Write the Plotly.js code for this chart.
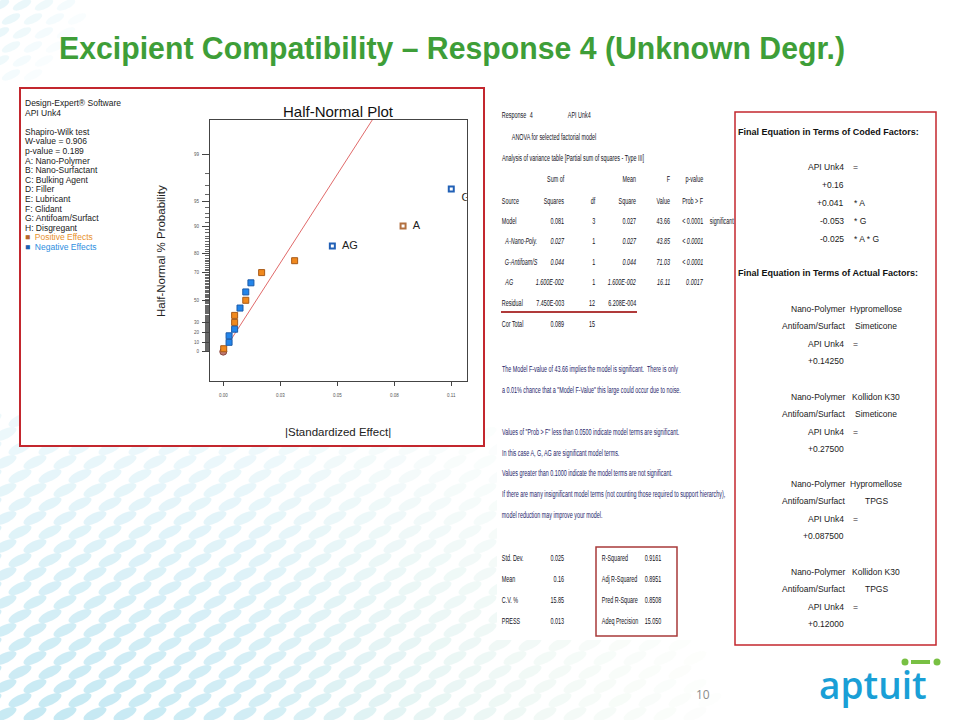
<!DOCTYPE html>
<html>
<head>
<meta charset="utf-8">
<script src="https://cdn.plot.ly/plotly-3.0.1.min.js"></script>
<style>
  html, body { margin: 0; padding: 0; background: #ffffff; }
  #chart { width: 960px; height: 720px; }
</style>
</head>
<body>
<div id="chart"></div>
<script>
// ---------------- DATA ----------------
// Half-normal plot: |standardized effect| and half-normal % probability
const effX = [0.0002, 0.0027, 0.0027, 0.0053, 0.0053, 0.0053, 0.0078, 0.0105, 0.0105, 0.0129, 0.0179, 0.0333, 0.0509, 0.0839, 0.1064];
const effP = [3.33, 10, 16.67, 23.33, 30, 36.67, 43.33, 50, 56.67, 63.33, 70, 76.67, 83.33, 90, 96.67];
const effSign = ['+', '-', '-', '-', '+', '+', '-', '+', '-', '-', '+', '+', '-', '+', '-'];
const effLabel = ['', '', '', '', '', '', '', '', '', '', '', '', 'AG', 'A', 'G'];
const errX = [0.0];
const errP = [0.3];
const lineX = [0.0028, 0.0755];
const lineP = [10, 99.9];
const yTickP = [0, 10, 20, 30, 50, 70, 80, 90, 95, 99];
const xTickVals = [0, 0.0266, 0.0532, 0.0798, 0.1064];
const xTickText = ['0.00', '0.03', '0.05', '0.08', '0.11'];

const infoLines = ['Design-Expert\u00AE Software', 'API Unk4', '', 'Shapiro-Wilk test', 'W-value = 0.906', 'p-value = 0.189',
  'A: Nano-Polymer', 'B: Nano-Surfactant', 'C: Bulking Agent', 'D: Filler', 'E: Lubricant', 'F: Glidant',
  'G: Antifoam/Surfact', 'H: Disgregant'];

// ANOVA table
const anovaSource = ['Model', 'A-Nano-Poly.', 'G-Antifoam/S', 'AG', 'Residual', 'Cor Total'];
const anovaSS = ['0.081', '0.027', '0.044', '1.600E-002', '7.450E-003', '0.089'];
const anovaDf = ['3', '1', '1', '1', '12', '15'];
const anovaMS = ['0.027', '0.027', '0.044', '1.600E-002', '6.208E-004', ''];
const anovaF = ['43.66', '43.85', '71.03', '16.11', '', ''];
const anovaPv = ['< 0.0001', '< 0.0001', '< 0.0001', '0.0017', '', ''];
const anovaNote = ['significant', '', '', '', '', ''];
const anovaItalic = [false, true, true, true, false, false];

const notes = [
  ['The Model F-value of 43.66 implies the model is significant.  There is only', 368],
  ['a 0.01% chance that a "Model F-Value" this large could occur due to noise.', 389],
  ['Values of "Prob > F" less than 0.0500 indicate model terms are significant.', 431],
  ['In this case A, G, AG are significant model terms.', 452],
  ['Values greater than 0.1000 indicate the model terms are not significant.', 472],
  ['If there are many insignificant model terms (not counting those required to support hierarchy),', 493],
  ['model reduction may improve your model.', 514]
];
const statLabelsL = ['Std. Dev.', 'Mean', 'C.V. %', 'PRESS'];
const statValuesL = ['0.025', '0.16', '15.85', '0.013'];
const statLabelsR = ['R-Squared', 'Adj R-Squared', 'Pred R-Square', 'Adeq Precision'];
const statValuesR = ['0.9161', '0.8951', '0.8508', '15.050'];

// Final equations
const codedTerms = [['+0.16', ''], ['+0.041', '* A'], ['-0.053', '* G'], ['-0.025', '* A * G']];
const actualPolymer = ['Hypromellose', 'Kollidon K30', 'Hypromellose', 'Kollidon K30'];
const actualSurfact = ['Simeticone', 'Simeticone', 'TPGS', 'TPGS'];
const actualValue = ['+0.14250', '+0.27500', '+0.087500', '+0.12000'];

// ---------------- HELPERS ----------------
function normInv(p) {
  const a = [-3.969683028665376e+01, 2.209460984245205e+02, -2.759285104469687e+02, 1.383577518672690e+02, -3.066479806614716e+01, 2.506628277459239e+00];
  const b = [-5.447609879822406e+01, 1.615858368580409e+02, -1.556989798598866e+02, 6.680131188771972e+01, -1.328068155288572e+01];
  const c = [-7.784894002430293e-03, -3.223964580411365e-01, -2.400758277161838e+00, -2.549732539343734e+00, 4.374664141464968e+00, 2.938163982698783e+00];
  const d = [7.784695709041462e-03, 3.224671290700398e-01, 2.445134137142996e+00, 3.754408661907416e+00];
  const pl = 0.02425;
  let q, r;
  if (p === 0.5) return 0;
  if (p < pl) { q = Math.sqrt(-2 * Math.log(p)); return (((((c[0]*q+c[1])*q+c[2])*q+c[3])*q+c[4])*q+c[5]) / ((((d[0]*q+d[1])*q+d[2])*q+d[3])*q+1); }
  if (p <= 1 - pl) { q = p - 0.5; r = q*q; return (((((a[0]*r+a[1])*r+a[2])*r+a[3])*r+a[4])*r+a[5])*q / (((((b[0]*r+b[1])*r+b[2])*r+b[3])*r+b[4])*r+1); }
  q = Math.sqrt(-2 * Math.log(1 - p)); return -(((((c[0]*q+c[1])*q+c[2])*q+c[3])*q+c[4])*q+c[5]) / ((((d[0]*q+d[1])*q+d[2])*q+d[3])*q+1);
}
// half-normal probability scale
const hz = p => normInv(0.5 + p / 200);

const W = 960, H = 720;
const PX = x => x / W, PY = y => 1 - y / H;
const SANS = 'Liberation Sans, Arial, sans-serif';
const annotations = [];
const annMeta = [];
function T(text, x, y, o) {
  o = o || {};
  const anchor = o.anchor || 'left';
  annotations.push({
    text: text, xref: 'paper', yref: 'paper', x: PX(x), y: PY(y),
    xanchor: anchor, yanchor: 'middle', showarrow: false,
    textangle: o.angle || 0, borderpad: 0,
    font: { family: o.family || SANS, size: o.size || 9, color: o.color || '#222222', weight: o.weight || 'normal' }
  });
  annMeta.push({ sx: o.sx || 1, tw: o.tw || 0, anchor: anchor });
}
const shapes = [];
function R(x0, y0, x1, y1, line, fill, extra) {
  shapes.push(Object.assign({ type: 'rect', xref: 'paper', yref: 'paper', x0: PX(x0), x1: PX(x1), y0: PY(y0), y1: PY(y1),
    line: line || { width: 0 }, fillcolor: fill || 'rgba(0,0,0,0)', layer: 'below' }, extra || {}));
}
// decorative rotated ellipse (background pattern of the slide)
function ellipse(cx, cy, rx, ry, ang, color) {
  const k = 0.5523, ca = Math.cos(ang), sa = Math.sin(ang);
  const P = (u, v) => [cx + u * ca - v * sa, cy + u * sa + v * ca];
  const pts = [P(rx, 0), P(rx, k*ry), P(k*rx, ry), P(0, ry), P(-k*rx, ry), P(-rx, k*ry), P(-rx, 0),
               P(-rx, -k*ry), P(-k*rx, -ry), P(0, -ry), P(k*rx, -ry), P(rx, -k*ry), P(rx, 0)];
  const f = p => PX(p[0]).toFixed(5) + ',' + PY(p[1]).toFixed(5);
  let d = 'M' + f(pts[0]);
  for (let i = 1; i < pts.length; i += 3) d += ' C' + f(pts[i]) + ' ' + f(pts[i+1]) + ' ' + f(pts[i+2]);
  shapes.push({ type: 'path', xref: 'paper', yref: 'paper', path: d + ' Z', fillcolor: color, line: { width: 0 }, layer: 'below' });
}

// ---------------- BACKGROUND PATTERN ----------------
for (let r = 0; r < 22; r++) {
  for (let c = 0; c < 34; c++) {
    const cx = c * 30 + (r % 2) * 15 - 10, cy = 420 + r * 14;
    const dist = Math.hypot(cx - 60, (cy - 760) * 1.5);
    let a = 0.7 * (1 - dist / 700);
    if (a <= 0.04) continue;
    const g = Math.max(0, Math.min(1, (cx - 250) / 500));
    const col = `rgba(${Math.round(165 + 45 * g)},${Math.round(220 + 12 * g)},${Math.round(236 - 40 * g)},${a.toFixed(3)})`;
    ellipse(cx, cy, 12.5, 5, -0.45, col);
  }
}
for (let r = 0; r < 6; r++) {
  for (let c = 0; c < 4; c++) {
    const cx = c * 22 + (r % 2) * 11, cy = 5 + r * 14;
    const a = 0.35 * (1 - (cx + cy * 0.8) / 120);
    if (a > 0.04) ellipse(cx, cy, 10, 4, -0.45, `rgba(180,225,238,${a.toFixed(3)})`);
  }
}

// ---------------- PANELS ----------------
R(20, 88, 484, 446, { color: '#c3272e', width: 2 }, '#ffffff');
R(497, 97, 733, 640, { width: 0 }, '#ffffff');
R(735, 112, 936, 645, { color: '#c3272e', width: 1.5 }, '#ffffff');

// slide title
T('<b>Excipient Compatibility \u2013 Response 4 (Unknown Degr.)</b>', 58, 49, { size: 31, color: '#3e9e38', tw: 787 });

// left info text
infoLines.forEach((s, i) => { if (s) T(s, 24, 103 + i * 9.6, { size: 8.5, color: '#1a1a1a' }); });
T('<span style="color:#b8652a">\u25A0</span>  Positive Effects', 24, 103 + 14 * 9.6, { size: 8.5, color: '#e8912e' });
T('<span style="color:#1f5fb0">\u25A0</span>  Negative Effects', 24, 103 + 15 * 9.6, { size: 8.5, color: '#2e8ee0' });

// plot titles
T('Half-Normal Plot', 338, 111, { anchor: 'center', size: 15, color: '#111111' });
T('Half-Normal % Probability', 161, 251, { anchor: 'center', angle: -90, size: 11.5, color: '#222222' });
T('|Standardized Effect|', 338, 432, { anchor: 'center', size: 11.5, color: '#222222' });

// ANOVA block (condensed screenshot text)
const SX = 0.57;
const AF = { size: 9.5, color: '#111122', sx: SX };
const AR = Object.assign({ anchor: 'right' }, AF);
T('Response', 501, 115, AF); T('4', 529, 115, AF); T('API Unk4', 567, 115, AF);
T('ANOVA for selected factorial model', 511, 136, AF);
T('Analysis of variance table [Partial sum of squares - Type III]', 501, 157, AF);
const colR = [565, 596, 637, 671, 704];
['Sum of', '', 'Mean', 'F', 'p-value'].forEach((s, i) => { if (s) T(s, colR[i], 178, AR); });
T('Source', 501, 200, AF);
['Squares', 'df', 'Square', 'Value', 'Prob > F'].forEach((s, i) => T(s, colR[i], 200, AR));
anovaSource.forEach((src, r) => {
  const y = 220 + r * 20.6;
  const it = s => anovaItalic[r] ? '<i>' + s + '</i>' : s;
  T(it(src), r >= 1 && r <= 3 ? 504 : 501, y, AF);
  [anovaSS[r], anovaDf[r], anovaMS[r], anovaF[r], anovaPv[r]].forEach((v, c) => {
    if (v) T(c === 1 ? v : it(v), colR[c], y, AR);
  });
  if (anovaNote[r]) T(anovaNote[r], 709, y, AF);
});
shapes.push({ type: 'line', xref: 'paper', yref: 'paper', x0: PX(501), x1: PX(637), y0: PY(312), y1: PY(312), line: { color: '#b03a3a', width: 2 } });

notes.forEach(n => T(n[0], 501, n[1], { size: 9.5, color: '#1e1e6a', sx: SX }));
statLabelsL.forEach((s, i) => {
  const y = 557 + i * 21;
  T(s, 501, y, AF);
  T(statValuesL[i], 565, y, AR);
  T(statLabelsR[i], 601, y, AF);
  T(statValuesR[i], 644, y, AF);
});
R(596, 547, 677, 636, { color: '#a83a3a', width: 1.5 }, 'rgba(0,0,0,0)', { layer: 'above' });

// Final equations
const EF = { size: 8.5, color: '#1a1a1a' };
const ER = Object.assign({ anchor: 'right' }, EF);
const EC = Object.assign({ anchor: 'center' }, EF);
T('<b>Final Equation in Terms of Coded Factors:</b>', 737, 132, { size: 9, color: '#111111' });
T('API Unk4', 845, 167, ER); T('=', 852, 167, EF);
codedTerms.forEach((t, i) => {
  const y = 185 + i * 18;
  T(t[0], 845, y, ER);
  if (t[1]) T(t[1], 853, y, EF);
});
T('<b>Final Equation in Terms of Actual Factors:</b>', 737, 273, { size: 9, color: '#111111' });
actualValue.forEach((v, i) => {
  const y0 = 309 + i * 87.7;
  T('Nano-Polymer', 846, y0, ER);
  T(actualPolymer[i], 876, y0, EC);
  T('Antifoam/Surfact', 846, y0 + 17, ER);
  T(actualSurfact[i], 876, y0 + 17, EC);
  T('API Unk4', 845, y0 + 35, ER); T('=', 852, y0 + 35, EF);
  T(v, 845, y0 + 52, ER);
});

// page number + logo
T('10', 703, 694, { anchor: 'center', size: 12, color: '#8c8c8c', family: 'Open Sans, sans-serif' });
T('aptuit', 873, 684, { anchor: 'center', size: 37, color: '#1a9fd6', family: 'Open Sans, sans-serif', weight: 600 });
shapes.push({ type: 'circle', xref: 'paper', yref: 'paper', x0: PX(901.5), x1: PX(908.5), y0: PY(658.5), y1: PY(665.5), fillcolor: '#78c043', line: { width: 0 } });
shapes.push({ type: 'circle', xref: 'paper', yref: 'paper', x0: PX(933.5), x1: PX(940.5), y0: PY(658.5), y1: PY(665.5), fillcolor: '#78c043', line: { width: 0 } });
shapes.push({ type: 'line', xref: 'paper', yref: 'paper', x0: PX(911), x1: PX(930), y0: PY(662), y1: PY(662), line: { color: '#78c043', width: 4 } });

// ---------------- TRACES ----------------
const idx = f => effX.map((_, i) => i).filter(f);
const posI = idx(i => effSign[i] === '+' && !effLabel[i]);
const negI = idx(i => effSign[i] === '-' && !effLabel[i]);
const labI = idx(i => !!effLabel[i]);

const traces = [
  { x: lineX, y: lineP.map(hz), mode: 'lines', line: { color: '#e06a6a', width: 1 }, hoverinfo: 'skip' },
  { x: errX, y: errP.map(hz), mode: 'markers', marker: { symbol: 'circle', size: 7, color: '#c07a70', line: { color: '#8a4a44', width: 1 } } },
  { x: posI.map(i => effX[i]), y: posI.map(i => hz(effP[i])), mode: 'markers',
    marker: { symbol: 'square', size: 6, color: '#f0891e', line: { color: '#a85a18', width: 1 } } },
  { x: negI.map(i => effX[i]), y: negI.map(i => hz(effP[i])), mode: 'markers',
    marker: { symbol: 'square', size: 6, color: '#2385ea', line: { color: '#1b5aa8', width: 1 } } },
  { x: labI.map(i => effX[i]), y: labI.map(i => hz(effP[i])), mode: 'markers+text',
    text: labI.map(i => '  ' + effLabel[i]),
    textposition: labI.map(i => effLabel[i] === 'G' ? 'bottom right' : 'middle right'),
    textfont: { family: SANS, size: 11, color: '#222222' },
    marker: { symbol: 'square', size: 5, color: '#ffffff', line: { color: labI.map(i => effSign[i] === '+' ? '#b27040' : '#2160b6'), width: 2 } } }
];

const yMinor = [];
for (let p = 1; p <= 99; p++) yMinor.push(hz(p));

const layout = {
  width: W, height: H,
  margin: { l: 0, r: 0, t: 0, b: 0 },
  paper_bgcolor: '#ffffff', plot_bgcolor: 'rgba(0,0,0,0)',
  showlegend: false,
  xaxis: {
    domain: [PX(210), PX(466.7)], range: [-0.0062, 0.1136],
    tickmode: 'array', tickvals: xTickVals, ticktext: xTickText,
    ticks: 'outside', ticklen: 4, tickcolor: '#444444', tickwidth: 1,
    tickfont: { family: SANS, size: 4.5, color: '#555555' }, ticklabelstandoff: 6,
    showline: true, linecolor: '#444444', linewidth: 1, mirror: true,
    showgrid: false, zeroline: false
  },
  yaxis: {
    domain: [PY(381), PY(120)], range: [-0.38, 3.03],
    tickmode: 'array', tickvals: yTickP.map(hz), ticktext: yTickP.map(String),
    ticks: 'outside', ticklen: 7, tickcolor: '#444444', tickwidth: 1,
    tickfont: { family: SANS, size: 4.5, color: '#555555' }, ticklabelstandoff: 2,
    minor: { tickmode: 'array', tickvals: yMinor, ticks: 'outside', ticklen: 4, tickcolor: '#666666', tickwidth: 1, showgrid: false },
    showline: true, linecolor: '#444444', linewidth: 1, mirror: true,
    showgrid: false, zeroline: false
  },
  annotations: annotations,
  shapes: shapes
};

Plotly.newPlot('chart', traces, layout, { staticPlot: true, displayModeBar: false }).then(gd => {
  gd.querySelectorAll('g.annotation').forEach(g => {
    const i = +g.getAttribute('data-index');
    const m = annMeta[i];
    if (!m || (m.sx === 1 && !m.tw)) return;
    const bb = g.getBBox();
    if (!bb.width) return;
    const s = m.tw ? m.tw / bb.width : m.sx;
    const ax = m.anchor === 'left' ? bb.x : m.anchor === 'right' ? bb.x + bb.width : bb.x + bb.width / 2;
    g.setAttribute('transform', `translate(${ax},0) scale(${s},1) translate(${-ax},0)`);
  });
});
</script>
</body>
</html>
